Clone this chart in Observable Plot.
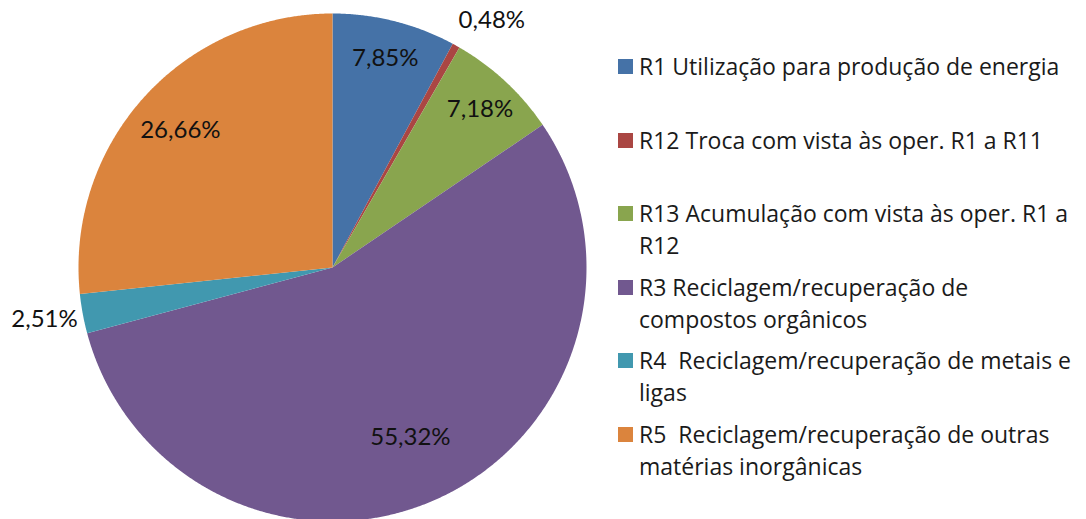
<!DOCTYPE html>
<html><head><meta charset="utf-8">
<script src="https://cdn.jsdelivr.net/npm/d3@7"></script>
<script src="https://cdn.jsdelivr.net/npm/@observablehq/plot@0.6"></script>
<style>
body{margin:0;background:#fff;}
#wrap{position:relative;width:1086px;height:519px;overflow:hidden;font-family:"Open Sans",Lato,sans-serif;color:#000;}
#wrap svg{position:absolute;left:0;top:0;}
.item{position:absolute;left:618px;width:468px;}
.sw{position:absolute;left:0;top:9px;width:15px;height:15px;}
.tx{position:absolute;left:21px;width:447px;font-size:23px;line-height:32px;white-space:pre-wrap;color:#1a1a1a;}
</style></head><body><div id="wrap"></div>
<script>
const categories = [
  "R1 Utilização para produção de energia",
  "R12 Troca com vista às oper. R1 a R11",
  "R13 Acumulação com vista às oper. R1 a R12",
  "R3 Reciclagem/recuperação de compostos orgânicos",
  "R4  Reciclagem/recuperação de metais e ligas",
  "R5  Reciclagem/recuperação de outras matérias inorgânicas"
];
const values = [7.85, 0.48, 7.18, 55.32, 2.51, 26.66];
const valueLabels = ["7,85%", "0,48%", "7,18%", "55,32%", "2,51%", "26,66%"];
const colors = ["#4572A7", "#AA4643", "#89A54E", "#71588F", "#4198AF", "#DB843D"];

const data = categories.map((c, i) => ({category: c, value: values[i], label: valueLabels[i]}));
const arcs = d3.pie().sort(null).value(d => d.value)(data);

const features = arcs.map(a => {
  const ring = [[0, 0]];
  const n = Math.max(2, Math.ceil((a.endAngle - a.startAngle) / 0.005));
  for (let k = 0; k <= n; k++) {
    const t = a.startAngle + (a.endAngle - a.startAngle) * k / n;
    ring.push([Math.sin(t), -Math.cos(t)]);
  }
  ring.push([0, 0]);
  return {type: "Feature", properties: a.data, geometry: {type: "Polygon", coordinates: [ring]}};
});

const R = 254, cx = 332, cy = 267, W = 1086, H = 519;
const labelPts = arcs.map(a => {
  const m = (a.startAngle + a.endAngle) / 2;
  const outside = a.data.value < 3;
  const r = outside ? 1.02 : 0.87 - 0.0024 * a.data.value;
  return {
    label: a.data.label, outside,
    x: r * Math.sin(m),
    y: -r * Math.cos(m) - (outside ? Math.cos(m) * 24 / R : 0),
    anchor: outside ? (Math.sin(m) >= 0 ? "start" : "end") : "middle"
  };
});

const font = "Lato, 'Open Sans', sans-serif";
const chart = Plot.plot({
  width: W, height: H, margin: 0,
  projection: {type: "identity", domain: {type: "MultiPoint", coordinates: [[-cx / R, -cy / R], [(W - cx) / R, (H - cy) / R]]}},
  color: {domain: categories, range: colors},
  marks: [
    Plot.geo(features, {fill: d => d.properties.category}),
    Plot.text(labelPts.filter(d => !d.outside), {x: "x", y: "y", text: "label", fontSize: 24, fill: "#111", fontFamily: font}),
    Plot.text(labelPts.filter(d => d.outside && d.anchor === "start"), {x: "x", y: "y", text: "label", textAnchor: "start", fontSize: 24, fill: "#111", fontFamily: font}),
    Plot.text(labelPts.filter(d => d.outside && d.anchor === "end"), {x: "x", y: "y", text: "label", textAnchor: "end", fontSize: 24, fill: "#111", fontFamily: font})
  ],
  style: {background: "transparent", overflow: "visible"}
});
const wrap = document.getElementById("wrap");
wrap.appendChild(chart);

categories.forEach((c, i) => {
  const item = document.createElement("div");
  item.className = "item";
  item.style.top = (66 + i * 73.6 - 16) + "px";
  const sw = document.createElement("div");
  sw.className = "sw";
  sw.style.background = colors[i];
  const tx = document.createElement("div");
  tx.className = "tx";
  tx.textContent = c;
  item.appendChild(sw); item.appendChild(tx);
  wrap.appendChild(item);
});
</script></body></html>
